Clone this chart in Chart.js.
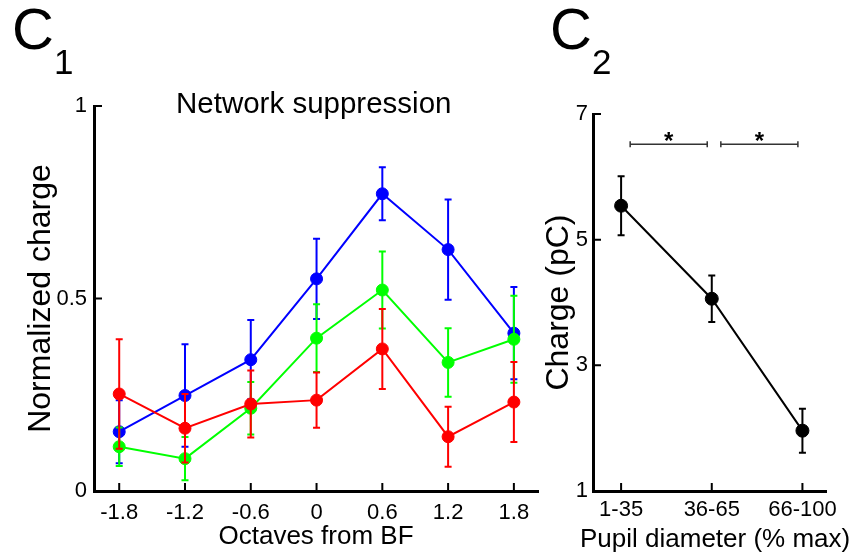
<!DOCTYPE html>
<html>
<head>
<meta charset="utf-8">
<script src="https://cdn.jsdelivr.net/npm/chart.js@4.4.1/dist/chart.umd.min.js"></script>
<style>
  body { margin: 0; background: #fff; font-family: "Liberation Sans", Arial, sans-serif; }
  #wrap { position: relative; width: 859px; height: 555px; overflow: hidden; }
  canvas { position: absolute; top: 0; }
  #left { left: 0; }
  #right { left: 525px; }
  .panel { position: absolute; font-size: 58px; line-height: 1; color: #000; }
  .panel span { font-size: 35px; position: relative; top: 25px; }
  .title { position: absolute; left: 176px; top: 88px; font-size: 29.5px; line-height: 1; color: #000; }
  .xtitle { position: absolute; left: 580px; top: 525px; font-size: 26px; line-height: 1; color: #000; white-space: nowrap; }
</style>
</head>
<body>
<div id="wrap">
  <canvas id="left" width="545" height="555"></canvas>
  <canvas id="right" width="334" height="555"></canvas>
  <div class="panel" style="left:12px;top:0">C<span>1</span></div>
  <div class="panel" style="left:550px;top:0">C<span>2</span></div>
  <div class="title">Network suppression</div>
  <div class="xtitle">Pupil diameter (% max)</div>
</div>
<script>
// C1 - normalized charge vs octaves from BF
const octaves = [-1.8, -1.2, -0.6, 0, 0.6, 1.2, 1.8];
const octaveLabels = ['-1.8', '-1.2', '-0.6', '0', '0.6', '1.2', '1.8'];
const chargeTicks = [0, 0.5, 1];
const chargeTickLabels = ['0', '0.5', '1'];

const blueMean = [0.154, 0.248, 0.341, 0.551, 0.772, 0.627, 0.410];
const blueSem = [0.082, 0.133, 0.103, 0.104, 0.069, 0.130, 0.120];
const greenMean = [0.115, 0.084, 0.215, 0.397, 0.522, 0.334, 0.394];
const greenSem = [0.050, 0.056, 0.068, 0.088, 0.100, 0.089, 0.113];
const redMean = [0.252, 0.163, 0.226, 0.236, 0.369, 0.141, 0.231];
const redSem = [0.142, 0.089, 0.087, 0.072, 0.104, 0.078, 0.104];

// C2 - charge vs pupil diameter
const pupilBins = ['1-35', '36-65', '66-100'];
const pupilCharge = [5.54, 4.06, 1.96];
const pupilSem = [0.47, 0.37, 0.35];
const pupilTicks = [1, 3, 5, 7];
const sigPairs = [[0, 1], [1, 2]];

Chart.defaults.font.family = '"Liberation Sans", Arial, sans-serif';
Chart.defaults.color = '#000';

// vertical error bars, drawn just under each dataset
const errorBars = {
    id: 'errorBars',
    beforeDatasetDraw(chart, args) {
        const ds = chart.data.datasets[args.index];
        if (!ds.errors) return;
        const ctx = chart.ctx;
        const y = chart.scales.y;
        ctx.save();
        ctx.strokeStyle = ds.borderColor;
        ctx.lineWidth = 2;
        ctx.beginPath();
        args.meta.data.forEach((pt, i) => {
            const v = ds.data[i].y, e = ds.errors[i];
            const hi = y.getPixelForValue(v + e), lo = y.getPixelForValue(v - e);
            ctx.moveTo(pt.x, hi); ctx.lineTo(pt.x, lo);
            ctx.moveTo(pt.x - 3.5, hi); ctx.lineTo(pt.x + 3.5, hi);
            ctx.moveTo(pt.x - 3.5, lo); ctx.lineTo(pt.x + 3.5, lo);
        });
        ctx.stroke();
        ctx.restore();
    }
};

// short tick marks pointing into the plot
const tickMarks = {
    id: 'tickMarks',
    beforeDatasetsDraw(chart) {
        const { ctx, chartArea: a, scales: { x, y } } = chart;
        ctx.save();
        ctx.strokeStyle = '#000';
        ctx.lineWidth = 2;
        ctx.beginPath();
        x.ticks.forEach(t => {
            const px = x.getPixelForValue(t.value);
            ctx.moveTo(px, a.bottom); ctx.lineTo(px, a.bottom - 8);
        });
        y.ticks.forEach(t => {
            const py = y.getPixelForValue(t.value);
            ctx.moveTo(a.left, py); ctx.lineTo(a.left + 8, py);
        });
        ctx.stroke();
        ctx.restore();
    }
};

// significance brackets with asterisks
const sigBrackets = {
    id: 'sigBrackets',
    afterDatasetsDraw(chart, args, opts) {
        const { ctx, scales: { x, y } } = chart;
        const py = y.getPixelForValue(opts.level);
        ctx.save();
        ctx.strokeStyle = '#333';
        ctx.lineWidth = 1.5;
        ctx.fillStyle = '#000';
        ctx.font = 'bold 24px "Liberation Sans", Arial, sans-serif';
        ctx.textAlign = 'center';
        ctx.textBaseline = 'alphabetic';
        sigPairs.forEach(([a, b]) => {
            const x1 = x.getPixelForValue(a + opts.start);
            const x2 = x.getPixelForValue(b + opts.end);
            ctx.beginPath();
            ctx.moveTo(x1, py); ctx.lineTo(x2, py);
            ctx.moveTo(x1, py - 3); ctx.lineTo(x1, py + 3);
            ctx.moveTo(x2, py - 3); ctx.lineTo(x2, py + 3);
            ctx.stroke();
            ctx.fillText('*', (x1 + x2) / 2, py + 5);
        });
        ctx.restore();
    }
};

function series(label, xs, ys, errs, color, order, radius) {
    return {
        label: label,
        data: xs.map((v, i) => ({ x: v, y: ys[i] })),
        errors: errs,
        borderColor: color,
        backgroundColor: color,
        pointBackgroundColor: color,
        pointBorderColor: color,
        borderWidth: 2,
        pointBorderWidth: 1,
        pointRadius: radius,
        tension: 0,
        order: order
    };
}

function axis(opts) {
    return {
        type: 'linear',
        min: opts.min,
        max: opts.max,
        afterFit: opts.fit,
        afterBuildTicks: s => { s.ticks = opts.ticks.map(v => ({ value: v })); },
        grid: { display: false, drawTicks: false },
        border: { color: '#000', width: 3 },
        ticks: { padding: opts.pad, font: { size: 22 }, callback: (v, i) => opts.labels[i] },
        title: { display: !!opts.title, text: opts.title, font: { size: opts.titleSize }, padding: opts.titlePad }
    };
}

new Chart(document.getElementById('left'), {
    type: 'line',
    data: {
        datasets: [
            series('blue', octaves, blueMean, blueSem, '#0000ff', 2, 6),
            series('green', octaves, greenMean, greenSem, '#00ff00', 1, 6),
            series('red', octaves, redMean, redSem, '#ff0000', 0, 6)
        ]
    },
    options: {
        responsive: false,
        animation: false,
        events: [],
        layout: { padding: { top: 106, right: 7, bottom: 0, left: 0 } },
        plugins: { legend: { display: false }, tooltip: { enabled: false } },
        scales: {
            x: axis({ min: -2.03, max: 2.02, fit: s => { s.height = 64; }, ticks: octaves, labels: octaveLabels,
                pad: 9, title: 'Octaves from BF', titleSize: 26, titlePad: { top: 0, bottom: 3 } }),
            y: axis({ min: 0, max: 1, fit: s => { s.width = 94; }, ticks: chargeTicks, labels: chargeTickLabels,
                pad: 7, title: 'Normalized charge', titleSize: 32, titlePad: { top: 22, bottom: 0 } })
        }
    },
    plugins: [errorBars, tickMarks]
});

// the x title of C2 is wider than its axis, so it sits in the page (.xtitle)
new Chart(document.getElementById('right'), {
    type: 'line',
    data: {
        datasets: [
            series('charge', pupilBins.map((b, i) => i), pupilCharge, pupilSem, '#000000', 0, 6.5)
        ]
    },
    options: {
        responsive: false,
        animation: false,
        events: [],
        layout: { padding: { top: 114, right: 33, bottom: 0, left: 0 } },
        plugins: {
            legend: { display: false },
            tooltip: { enabled: false },
            sigBrackets: { level: 6.52, start: 0.1, end: -0.05 }
        },
        scales: {
            x: axis({ min: -0.31, max: 2.26, fit: s => { s.height = 64; }, ticks: [0, 1, 2], labels: pupilBins,
                pad: 6, title: '', titleSize: 26, titlePad: 0 }),
            y: axis({ min: 1, max: 7, fit: s => { s.width = 68; }, ticks: pupilTicks, labels: pupilTicks.map(String),
                pad: 5, title: 'Charge (pC)', titleSize: 32, titlePad: { top: 15, bottom: 0 } })
        }
    },
    plugins: [errorBars, tickMarks, sigBrackets]
});
</script>
</body>
</html>
